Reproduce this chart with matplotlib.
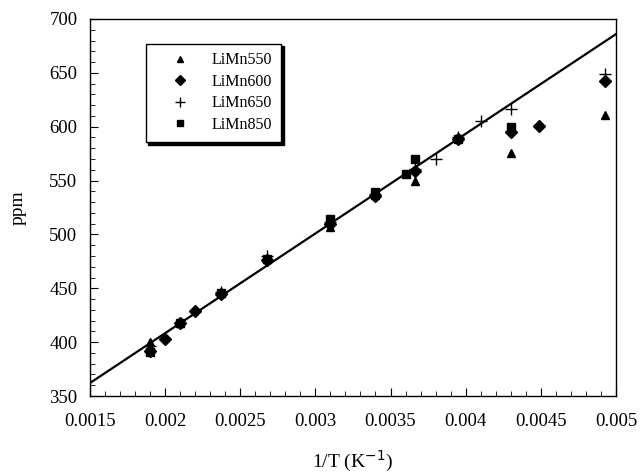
import matplotlib
matplotlib.use('Agg')
import matplotlib.pyplot as plt
from matplotlib.ticker import MultipleLocator

# data
x550 = [0.0019, 0.0021, 0.00237, 0.00268, 0.0031, 0.0034, 0.00366, 0.0043, 0.00493]
y550 = [400, 418, 446, 477, 507, 537, 550, 576, 611]

x600 = [0.0019, 0.002, 0.0021, 0.0022, 0.00237, 0.00268, 0.0031, 0.0034, 0.00366, 0.00395, 0.0043, 0.00449, 0.00493]
y600 = [392, 403, 418, 429, 445, 476, 510, 536, 559, 589, 595, 601, 642]

x650 = [0.0019, 0.00237, 0.00268, 0.0031, 0.0034, 0.00366, 0.0038, 0.00395, 0.0041, 0.0043, 0.00493]
y650 = [396, 447, 480, 512, 538, 561, 570, 590, 605, 616, 649]

x850 = [0.0019, 0.0021, 0.00237, 0.00268, 0.0031, 0.0034, 0.0036, 0.00366, 0.00395, 0.0043]
y850 = [391, 418, 446, 477, 514, 539, 556, 570, 589, 600]

fit_x = [0.0015, 0.005]
fit_y = [362, 686]

tick_vals = [0.0015, 0.002, 0.0025, 0.003, 0.0035, 0.004, 0.0045, 0.005]
tick_text = ['0.0015', '0.002', '0.0025', '0.003', '0.0035', '0.004', '0.0045', '0.005']

plt.rcParams['font.family'] = ['Liberation Serif', 'DejaVu Serif']

fig = plt.figure(figsize=(6.42, 4.75), dpi=100)
ax = fig.add_axes([0.140, 0.1663, 0.8195, 0.7937])

ax.plot(fit_x, fit_y, color='black', lw=1.6, zorder=1)
ax.plot(x550, y550, '^', color='black', ms=5.5, ls='none', label='LiMn550')
ax.plot(x600, y600, 'D', color='black', ms=6, ls='none', label='LiMn600')
ax.plot(x650, y650, '+', color='black', ms=9, mew=1.0, ls='none', label='LiMn650')
ax.plot(x850, y850, 's', color='black', ms=5.5, ls='none', label='LiMn850')

ax.set_xlim(0.0015, 0.005)
ax.set_ylim(350, 700)
ax.set_xticks(tick_vals)
ax.set_xticklabels(tick_text)
ax.xaxis.set_minor_locator(MultipleLocator(0.0001))
ax.yaxis.set_major_locator(MultipleLocator(50))
ax.yaxis.set_minor_locator(MultipleLocator(10))
ax.tick_params(which='both', direction='in', top=False, right=False)
ax.tick_params(which='major', length=6, labelsize=13.5)
ax.tick_params(axis='x', which='major', pad=12)
ax.tick_params(axis='y', which='major', pad=9)
ax.tick_params(which='minor', length=3.5)
for s in ax.spines.values():
    s.set_linewidth(1.0)

ax.set_xlabel('1/T (K$^{-1}$)', fontsize=14, labelpad=14)
ax.set_ylabel('ppm', fontsize=14, labelpad=16)

# legend box with a solid black drop shadow, like the original
leg = ax.legend(loc='upper left', bbox_to_anchor=(0.106, 0.935), frameon=True, fancybox=False,
                shadow={'color': 'black', 'alpha': 1, 'ox': 2, 'oy': -2}, edgecolor='black',
                fontsize=11.5, handlelength=3.2, handletextpad=0.4, borderpad=0.55,
                labelspacing=0.35, borderaxespad=0, markerscale=0.85)
leg.get_frame().set_linewidth(1.0)

fig.savefig('out.png', dpi=100)
